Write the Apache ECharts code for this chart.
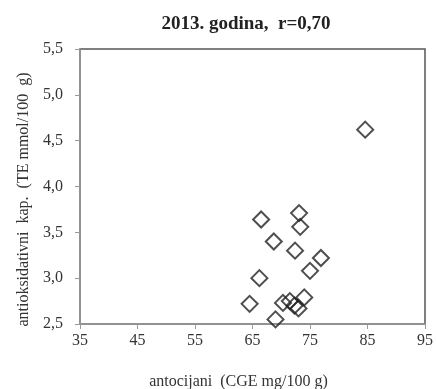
<!DOCTYPE html>
<html>
<head>
<meta charset="utf-8">
<script src="https://cdn.jsdelivr.net/npm/echarts@6/dist/echarts.min.js"></script>
<style>
    html, body { margin: 0; padding: 0; background: #fff; }
    #chart { width: 436px; height: 389px; }
</style>
</head>
<body>
<div id="chart"></div>
<script>
// antocijani (CGE mg/100 g)
var antocijani = [66.5, 73.1, 73.3, 68.7, 72.4, 76.9, 75.0, 66.2, 64.5, 69.0, 70.3, 71.5, 72.3, 73.0, 74.0, 84.6];
// antioksidativni kapacitet (TE mmol/100 g)
var antioksidativni = [3.64, 3.71, 3.56, 3.40, 3.30, 3.22, 3.08, 3.00, 2.72, 2.55, 2.73, 2.75, 2.70, 2.67, 2.79, 4.62];

var points = [];
for (var i = 0; i < antocijani.length; i++) {
    points.push([antocijani[i], antioksidativni[i]]);
}

var font = 'Liberation Serif';
var chart = echarts.init(document.getElementById('chart'));
chart.setOption({
    animation: false,
    title: {
        text: '2013. godina,  r=0,70',
        left: 241,
        top: 10,
        textAlign: 'center',
        textStyle: { fontFamily: font, fontSize: 19, fontWeight: 'bold', color: '#222' }
    },
    grid: {
        left: 80, right: 11, top: 49, bottom: 65,
        outerBoundsMode: 'none', containLabel: false,
        show: true, borderColor: '#555', borderWidth: 1.5
    },
    xAxis: {
        type: 'value',
        min: 35,
        max: 95,
        interval: 10,
        name: 'antocijani  (CGE mg/100 g)',
        nameLocation: 'middle',
        nameGap: 50,
        nameTextStyle: { fontFamily: font, fontSize: 16, color: '#333', padding: [0, 28, 0, 0] },
        splitLine: { show: false },
        axisLine: { lineStyle: { color: '#999', width: 1.5 } },
        axisTick: { length: 5, lineStyle: { color: '#999' } },
        axisLabel: { fontFamily: font, fontSize: 16, color: '#333', margin: 9 }
    },
    yAxis: {
        type: 'value',
        min: 2.5,
        max: 5.5,
        interval: 0.5,
        name: 'antioksidativni  kap.  (TE mmol/100  g)',
        nameLocation: 'middle',
        nameGap: 47,
        nameTextStyle: { fontFamily: font, fontSize: 16, color: '#333', padding: [0, 26, 0, 0] },
        splitLine: { show: false },
        axisLine: { lineStyle: { color: '#999', width: 1.5 } },
        axisTick: { length: 5, lineStyle: { color: '#999' } },
        axisLabel: {
            fontFamily: font, fontSize: 16, color: '#333', margin: 17,
            formatter: function (v) { return v.toFixed(1).replace('.', ','); }
        }
    },
    series: [{
        type: 'scatter',
        symbol: 'diamond',
        symbolSize: 16,
        data: points,
        itemStyle: { color: 'rgba(255,255,255,0)', borderColor: '#222', borderWidth: 2 }
    }]
});
</script>
</body>
</html>
